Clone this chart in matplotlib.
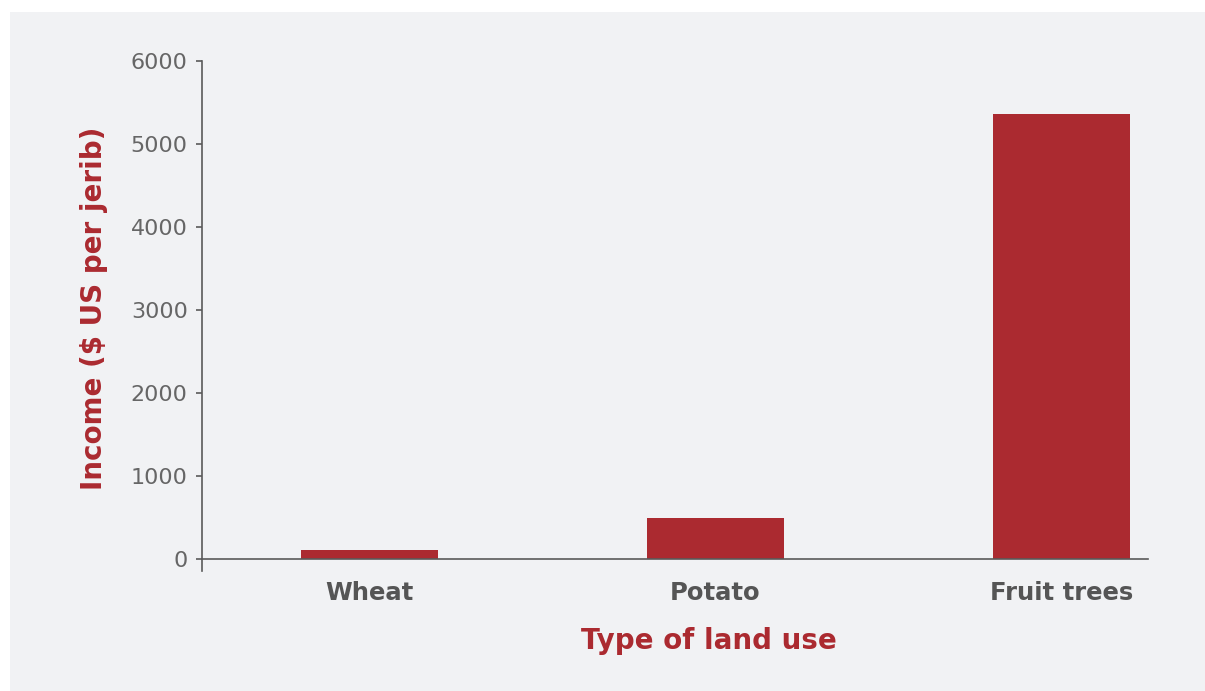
import matplotlib
matplotlib.use("Agg")
import matplotlib.pyplot as plt
from matplotlib.patches import Rectangle

categories = ["Wheat", "Potato", "Fruit trees"]
income = [110, 495, 5360]
yticks = [0, 1000, 2000, 3000, 4000, 5000, 6000]

RED = "#ab2a30"
BG = "#f1f2f4"
AXC = "#5a5a5a"

W, H = 1205, 691
fig = plt.figure(figsize=(W / 100, H / 100), dpi=100)
fig.patch.set_facecolor("white")
fig.patches.append(Rectangle((10 / W, -0.05), 1.1, 1.05 - 12 / H,
                             transform=fig.transFigure, facecolor=BG,
                             edgecolor="none", zorder=-10))

left, right, top, bottom = 202, 1148, 61, 571
ax = fig.add_axes([left / W, 1 - bottom / H, (right - left) / W, (bottom - top) / H])
ax.set_facecolor("none")
ax.set_zorder(5)

x = list(range(len(categories)))
ax.bar(x, income, width=0.396, color=RED, zorder=2)

ax.set_xlim(-0.484, 2.25)
ax.set_ylim(-145, 6000)

for s in ["top", "right"]:
    ax.spines[s].set_visible(False)
ax.spines["bottom"].set_position(("data", 0))
for s in ["left", "bottom"]:
    ax.spines[s].set_color(AXC)
    ax.spines[s].set_linewidth(1.2)

ax.set_yticks(yticks)
ax.set_yticklabels([str(v) for v in yticks])
ax.tick_params(axis="y", length=4.3, width=1.2, color=AXC, pad=6,
               labelsize=16, labelcolor="#666666")
ax.set_xticks(x)
ax.set_xticklabels(categories, fontweight="bold")
ax.tick_params(axis="x", length=0, pad=16, labelsize=17.5, labelcolor="#555555")

fig.text(709 / W, 1 - 641 / H, "Type of land use", color=RED, fontsize=20,
         fontweight="bold", ha="center", va="center")
fig.text(94 / W, 1 - 308 / H, "Income ($ US per jerib)", color=RED, fontsize=20,
         fontweight="bold", ha="center", va="center", rotation=90)

fig.savefig("out.png", dpi=100)
